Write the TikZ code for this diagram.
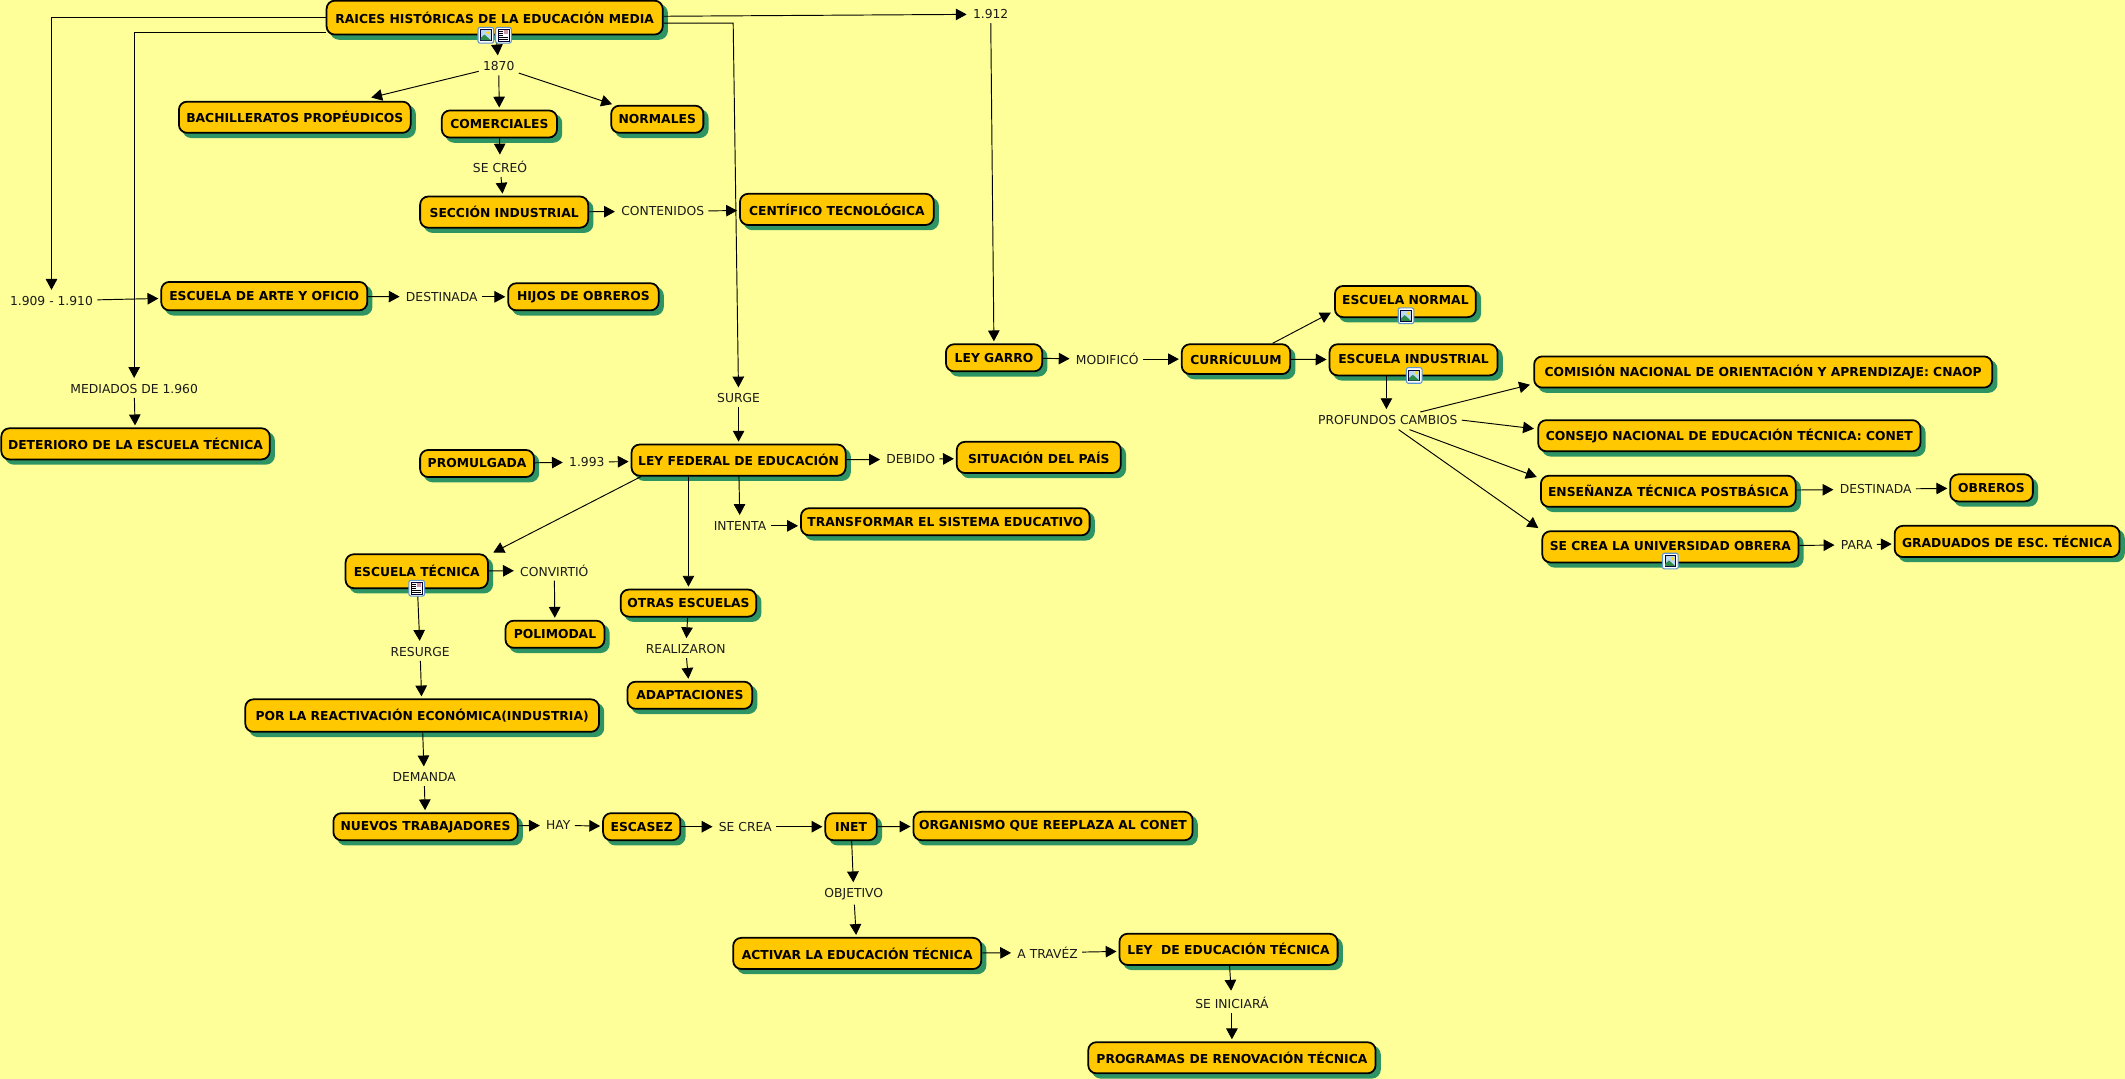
\documentclass[tikz,border=0pt]{standalone}
\usepackage{fontspec}
\setmainfont{DejaVu Sans}
\usetikzlibrary{arrows.meta, calc, shadows}
\definecolor{fondo}{HTML}{FFFF99}
\definecolor{oro}{HTML}{FFC800}
\definecolor{sombra}{HTML}{2F9463}
\definecolor{tinta}{HTML}{1A1A1A}
\definecolor{marco}{HTML}{5E96D0}
\definecolor{cielo}{HTML}{BBD8F2}
\definecolor{loma}{HTML}{2E8B4A}
\tikzset{
    concepto/.style={draw=black, fill=oro, rounded corners=6pt, line width=1.3pt, inner sep=1pt, align=center,
        font=\bfseries\fontsize{9.1}{11}\selectfont,
        drop shadow={shadow xshift=3.2pt, shadow yshift=-3.2pt, fill=sombra, draw=sombra, opacity=1}},
    enlace/.style={inner xsep=3pt, inner ysep=3pt, text=tinta, font=\fontsize{9.1}{11}\selectfont},
    flecha/.style={-{Triangle[length=8pt, width=8.5pt]}, line width=0.7pt, shorten >=1.5pt},
    pics/iconoimagen/.style={code={
        \draw[marco, fill=white, rounded corners=1.5pt, line width=0.8pt] (-5.8,-5.8) rectangle (5.8,5.8);
        \draw[black!80!blue, fill=cielo, line width=0.5pt] (-4,-4) rectangle (4,4);
        \fill[loma] (-3.8,3.8) -- (-3.8,2) -- (-1,-0.5) -- (3.8,3.8) -- cycle;
        \fill[yellow!80!orange] (1.5,-1.8) circle (1.3);
    }},
    pics/iconotexto/.style={code={
        \draw[marco, fill=white, rounded corners=1.5pt, line width=0.8pt] (-5.8,-5.8) rectangle (5.8,5.8);
        \draw[black!80!blue, fill=white, line width=0.5pt] (-4,-4.4) rectangle (4,4.4);
        \fill[cielo!70!red] (0.4,-3.6) rectangle (3.4,-0.8);
        \foreach \fila in {-3,-1.5,0,1.4,2.8} \draw[black, line width=0.5pt] (-3.2,\fila) -- (-0.2,\fila);
        \draw[black, line width=0.5pt] (-3.2,1.4) -- (3.2,1.4) (-3.2,2.8) -- (3.2,2.8);
    }},
}
\begin{document}
\begin{tikzpicture}[x=1pt, y=-1pt]
    \useasboundingbox (0,0) rectangle (1568,796);
    \fill[fondo] (0,0) rectangle (1568,796);

    % Conceptos, parte izquierda
    \node[concepto, minimum width=248pt, minimum height=25pt] (raices) at (365,13) {RAICES HISTÓRICAS DE LA EDUCACIÓN MEDIA};
    \node[concepto, minimum width=171pt, minimum height=23pt] (bach) at (217.5,86.5) {BACHILLERATOS PROPÉUDICOS};
    \node[concepto, minimum width=85pt, minimum height=20pt] (comer) at (368.5,91.5) {COMERCIALES};
    \node[concepto, minimum width=68pt, minimum height=20pt] (norma) at (485,88) {NORMALES};
    \node[concepto, minimum width=124pt, minimum height=23pt] (seccion) at (372,156.5) {SECCIÓN INDUSTRIAL};
    \node[concepto, minimum width=143pt, minimum height=23pt] (cientif) at (617.5,154.5) {CENTÍFICO TECNOLÓGICA};
    \node[concepto, minimum width=152pt, minimum height=21pt] (arte) at (195,218.5) {ESCUELA DE ARTE Y OFICIO};
    \node[concepto, minimum width=111pt, minimum height=20pt] (hijos) at (430.5,219) {HIJOS DE OBREROS};
    \node[concepto, minimum width=198pt, minimum height=23pt] (deterioro) at (100,327.5) {DETERIORO DE LA ESCUELA TÉCNICA};

    % Conceptos, parte central
    \node[concepto, minimum width=84pt, minimum height=20pt] (promul) at (352,342) {PROMULGADA};
    \node[concepto, minimum width=158pt, minimum height=23pt] (leyfed) at (545,339.5) {LEY FEDERAL DE EDUCACIÓN};
    \node[concepto, minimum width=121pt, minimum height=23pt] (situac) at (766.5,337.5) {SITUACIÓN DEL PAÍS};
    \node[concepto, minimum width=213pt, minimum height=20pt] (transf) at (697.5,385) {TRANSFORMAR EL SISTEMA EDUCATIVO};
    \node[concepto, minimum width=105pt, minimum height=25pt] (tecnica) at (307.5,421.5) {ESCUELA TÉCNICA};
    \node[concepto, minimum width=73pt, minimum height=20pt] (polimod) at (409.5,468) {POLIMODAL};
    \node[concepto, minimum width=100pt, minimum height=20pt] (otras) at (508,445) {OTRAS ESCUELAS};
    \node[concepto, minimum width=92pt, minimum height=20pt] (adapt) at (509,513) {ADAPTACIONES};
    \node[concepto, minimum width=261pt, minimum height=24pt] (reactiv) at (311.5,528) {POR LA REACTIVACIÓN ECONÓMICA(INDUSTRIA)};
    \node[concepto, minimum width=136pt, minimum height=20pt] (nuevos) at (314,610) {NUEVOS TRABAJADORES};
    \node[concepto, minimum width=57pt, minimum height=20pt] (escasez) at (473.5,610) {ESCASEZ};
    \node[concepto, minimum width=38pt, minimum height=20pt] (inet) at (628,610) {INET};
    \node[concepto, minimum width=206pt, minimum height=21pt] (organismo) at (777,609.5) {ORGANISMO QUE REEPLAZA AL CONET};
    \node[concepto, minimum width=183pt, minimum height=23pt] (activar) at (632.5,703.5) {ACTIVAR LA EDUCACIÓN TÉCNICA};
    \node[concepto, minimum width=161pt, minimum height=23pt] (leyedu) at (906.5,700.5) {LEY\ \ DE EDUCACIÓN TÉCNICA};
    \node[concepto, minimum width=212pt, minimum height=23pt] (programas) at (909,780.5) {PROGRAMAS DE RENOVACIÓN TÉCNICA};

    % Conceptos, parte derecha
    \node[concepto, minimum width=71pt, minimum height=20pt] (garro) at (733.5,264) {LEY GARRO};
    \node[concepto, minimum width=80pt, minimum height=22pt] (curri) at (912,265) {CURRÍCULUM};
    \node[concepto, minimum width=104pt, minimum height=23pt] (enormal) at (1037,222.5) {\raisebox{2pt}{ESCUELA NORMAL}};
    \node[concepto, minimum width=124pt, minimum height=23pt] (eindus) at (1043,265.5) {\raisebox{1.5pt}{ESCUELA INDUSTRIAL}};
    \node[concepto, minimum width=338pt, minimum height=23pt] (comision) at (1301,274.5) {COMISIÓN NACIONAL DE ORIENTACIÓN Y APRENDIZAJE: CNAOP};
    \node[concepto, minimum width=282pt, minimum height=23pt] (consejo) at (1276,321.5) {CONSEJO NACIONAL DE EDUCACIÓN TÉCNICA: CONET};
    \node[concepto, minimum width=188pt, minimum height=23pt] (ensen) at (1231,362.5) {ENSEÑANZA TÉCNICA POSTBÁSICA};
    \node[concepto, minimum width=61pt, minimum height=20pt] (obreros) at (1469.5,360) {OBREROS};
    \node[concepto, minimum width=189pt, minimum height=23pt] (univ) at (1232.5,403.5) {\raisebox{1.5pt}{SE CREA LA UNIVERSIDAD OBRERA}};
    \node[concepto, minimum width=166pt, minimum height=23pt] (gradua) at (1481,399.5) {GRADUADOS DE ESC. TÉCNICA};

    % Enlaces
    \node[enlace] (e1912) at (731,10.5) {1.912};
    \node[enlace] (e1870) at (368,49) {1870};
    \node[enlace] (secreo) at (369,123) {SE CREÓ};
    \node[enlace] (conten) at (489,156) {CONTENIDOS};
    \node[enlace] (e1909) at (38,222) {1.909 - 1.910};
    \node[enlace] (destA) at (326,219) {DESTINADA};
    \node[enlace] (mediados) at (99,287) {MEDIADOS DE 1.960};
    \node[enlace] (surge) at (545,294) {SURGE};
    \node[enlace] (e1993) at (433,341) {1.993};
    \node[enlace] (debido) at (672,339) {DEBIDO};
    \node[enlace] (intenta) at (546,388) {INTENTA};
    \node[enlace] (convirtio) at (409,421) {CONVIRTIÓ};
    \node[enlace] (resurge) at (310,481) {RESURGE};
    \node[enlace] (realiz) at (506,479) {REALIZARON};
    \node[enlace] (demanda) at (313,573.5) {DEMANDA};
    \node[enlace] (hay) at (412,609) {HAY};
    \node[enlace] (secrea) at (550,610) {SE CREA};
    \node[enlace] (objetivo) at (630,660) {OBJETIVO};
    \node[enlace] (atravez) at (773,703) {A TRAVÉZ};
    \node[enlace] (seinic) at (909,740) {SE INICIARÁ};
    \node[enlace] (modif) at (817,265) {MODIFICÓ};
    \node[enlace] (profundos) at (1024,310) {PROFUNDOS CAMBIOS};
    \node[enlace] (destB) at (1384,361) {DESTINADA};
    \node[enlace] (para) at (1370,402) {PARA};
    \coordinate (codo) at (541,17);

    % Conectores desde la raiz
    \draw[flecha] (raices.west) -| (e1909.north);
    \draw[flecha] ($(raices.west)+(0,11)$) -| (mediados.north);
    \draw[flecha] ($(raices.east)+(0,4)$) -- (codo) -- (surge);
    \draw[flecha] ($(raices.east)+(0,-1)$) -- (e1912);
    \draw[flecha] (raices) -- (e1870);
    \draw[flecha] (e1870) -- ($(bach.north)+(55,-2)$);
    \draw[flecha] (e1870) -- (comer);
    \draw[flecha] (e1870) -- (norma);

    % Conectores, izquierda
    \draw[flecha] (comer) -- (secreo);
    \draw[flecha] (secreo) -- (seccion);
    \draw[flecha] (seccion) -- (conten);
    \draw[flecha] (conten) -- (cientif);
    \draw[flecha] (e1909) -- (arte);
    \draw[flecha] (arte) -- (destA);
    \draw[flecha] (destA) -- (hijos);
    \draw[flecha] (mediados) -- (deterioro);

    % Conectores, centro
    \draw[flecha] (surge) -- (leyfed);
    \draw[flecha] (promul) -- (e1993);
    \draw[flecha] (e1993) -- (leyfed);
    \draw[flecha] (leyfed) -- (debido);
    \draw[flecha] (debido) -- (situac);
    \draw[flecha] (leyfed) -- (intenta);
    \draw[flecha] (intenta) -- (transf.west |- intenta);
    \draw[flecha] ($(leyfed.south)+(-72,0)$) -- ($(tecnica.north east)+(2,0)$);
    \draw[flecha] ($(leyfed.south)+(-37,0)$) -- (otras.north);
    \draw[flecha] (tecnica) -- (convirtio);
    \draw[flecha] (convirtio) -- (polimod);
    \draw[flecha] (tecnica) -- (resurge);
    \draw[flecha] (resurge) -- (reactiv);
    \draw[flecha] (otras) -- (realiz);
    \draw[flecha] (realiz) -- (adapt);
    \draw[flecha] (reactiv) -- (demanda);
    \draw[flecha] (demanda) -- (nuevos);
    \draw[flecha] (nuevos) -- (hay);
    \draw[flecha] (hay) -- (escasez);
    \draw[flecha] (escasez) -- (secrea);
    \draw[flecha] (secrea) -- (inet);
    \draw[flecha] (inet) -- (organismo);
    \draw[flecha] (inet) -- (objetivo);
    \draw[flecha] (objetivo) -- (activar);
    \draw[flecha] (activar) -- (atravez);
    \draw[flecha] (atravez) -- (leyedu);
    \draw[flecha] (leyedu) -- (seinic);
    \draw[flecha] (seinic) -- (programas);

    % Conectores, derecha
    \draw[flecha] (e1912) -- (garro);
    \draw[flecha] (garro) -- (modif);
    \draw[flecha] (modif) -- (curri);
    \draw[flecha] ($(curri.north)+(27,0)$) -- ($(enormal.west)+(-1,7.5)$);
    \draw[flecha] (curri) -- (eindus);
    \draw[flecha] ($(eindus.south)+(-20,0)$) -- (profundos.north -| 1023,0);
    \draw[flecha] ($(profundos)+(24,-6)$) -- ($(comision.west)+(-1,9)$);
    \draw[flecha] (profundos.east) -- ($(consejo.west)+(-1,-5)$);
    \draw[flecha] ($(profundos)+(16,7)$) -- ($(ensen.west)+(-1,-10)$);
    \draw[flecha] ($(profundos)+(8,7)$) -- ($(univ.west)+(-1,-13)$);
    \draw[flecha] (ensen) -- (destB);
    \draw[flecha] (destB) -- (obreros);
    \draw[flecha] (univ) -- (para);
    \draw[flecha] (para) -- (gradua);

    % Iconos
    \pic at (358.5,26) {iconoimagen};
    \pic at (371.5,26) {iconotexto};
    \pic at (1037.5,233) {iconoimagen};
    \pic at (1043.5,277) {iconoimagen};
    \pic at (307.5,434) {iconotexto};
    \pic at (1232.5,414) {iconoimagen};
\end{tikzpicture}
\end{document}
